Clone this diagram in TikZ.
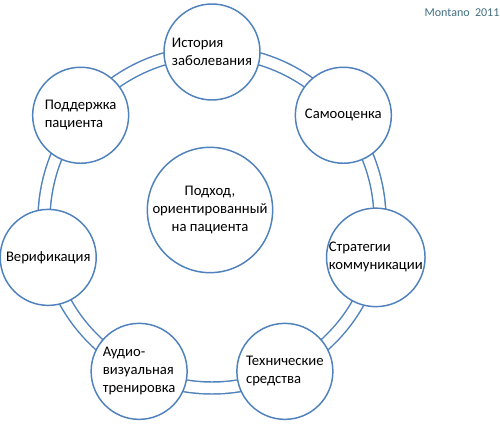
\documentclass[tikz,border=0pt]{standalone}
\usepackage{fontspec}
\setmainfont{Carlito}
\usepackage{tikz}
\usetikzlibrary{positioning,calc,backgrounds}
\definecolor{ringblue}{RGB}{79,129,189}
\definecolor{notegray}{RGB}{64,110,128}

\begin{document}
\begin{tikzpicture}[
        x=0.75pt, y=0.75pt,
        every node/.style={font=\fontsize{11}{13.5}\selectfont},
        topic/.style={circle, draw=ringblue, line width=1.1pt, fill=white, minimum size=72pt, inner sep=0pt, align=left},
        core/.style={topic, minimum size=94pt, align=center},
        link/.style={draw=ringblue, line width=1.1pt, double=white, double distance=7.9pt, looseness=0.9}
    ]
        \useasboundingbox (0,0) rectangle (500,429);
        \coordinate (hub) at (212,209);

        \node[core] (core) at (210,219) {Подход,\\ориентированный\\на пациента};

        \node[topic] (hist) at ($(hub)+(90:168)$) {История\\заболевания};
        \node[topic] (self) at ($(hub)+(38.57:168)$) {Самооценка};
        \node[topic] (comm) at ($(hub)+(-12.86:168)$) {Стратегии\\коммуникации};
        \node[topic] (tech) at ($(hub)+(-64.29:168)$) {Технические\\средства};
        \node[topic] (avis) at ($(hub)+(-115.71:168)$) {Аудио-\\визуальная\\тренировка};
        \node[topic] (veri) at ($(hub)+(-167.14:168)$) {Верификация};
        \node[topic] (supp) at ($(hub)+(141.43:168)$) {Поддержка\\пациента};

        \begin{pgfonlayer}{background}
        \draw[link] (hist.center) to[bend left=25.7] (self.center);
        \draw[link] (self.center) to[bend left=25.7] (comm.center);
        \draw[link] (comm.center) to[bend left=25.7] (tech.center);
        \draw[link] (tech.center) to[bend left=25.7] (avis.center);
        \draw[link] (avis.center) to[bend left=25.7] (veri.center);
        \draw[link] (veri.center) to[bend left=25.7] (supp.center);
        \draw[link] (supp.center) to[bend left=25.7] (hist.center);
        \end{pgfonlayer}

        \node[font=\fontsize{9}{11}\selectfont, text=notegray] (credit) at (462,416) {Montano\ \ 2011};
\end{tikzpicture}
\end{document}
